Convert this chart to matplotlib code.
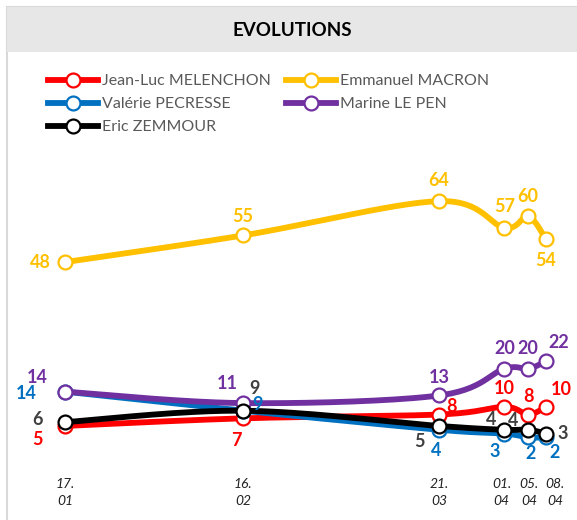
import numpy as np
import matplotlib.pyplot as plt
import matplotlib.transforms as mtransforms
from matplotlib.patches import Rectangle

# ---------------- data ----------------
date_labels = ["17.\n01", "16.\n02", "21.\n03", "01.\n04", "05.\n04", "08.\n04"]
day_of_year = [17, 47, 80, 91, 95, 98]

melenchon = [5, 7, 8, 10, 8, 10]
macron = [48, 55, 64, 57, 60, 54]
pecresse = [14, 9, 4, 3, 2, 2]
lepen = [14, 11, 13, 20, 20, 22]
zemmour = [6, 9, 5, 4, 4, 3]

series_names = ["Jean-Luc MELENCHON", "Emmanuel MACRON", "Valérie PECRESSE",
                "Marine LE PEN", "Eric ZEMMOUR"]

# ---------------- style ----------------
FONT = "Lato"
plt.rcParams['font.family'] = [FONT, 'DejaVu Sans']

W, H = 577, 520
fig = plt.figure(figsize=(W / 100, H / 100), dpi=100)

# frame + header band
fig.patches.append(Rectangle((7 / W, -0.05), 1.0, 1 - 7 / H + 0.05, transform=fig.transFigure,
                             facecolor='white', edgecolor='#D9D9D9', lw=1.5, zorder=-2))
fig.patches.append(Rectangle((7 / W, 1 - 52 / H), 1.0, 45 / H, transform=fig.transFigure,
                             facecolor='#E7E7E7', edgecolor='none', zorder=-1))
fig.text((7 + 577) / 2 / W, 1 - 30 / H, "EVOLUTIONS", ha='center', va='center',
         fontsize=13.5, fontweight='bold', color='black', family=[FONT, 'DejaVu Sans'])

ax = fig.add_axes([7 / W, 75 / H, 570 / W, 393 / H])
ax.set_zorder(1)
ax.set_facecolor('none')
PXX = 5.938  # px per day
PXY = 3.81   # px per unit
ax.set_xlim(17 - 58 / PXX, 98 + 31 / PXX)
ax.set_ylim(0, 393 / PXY)
for s in ax.spines.values():
    s.set_visible(False)
ax.set_yticks([])
ax.set_xticks(day_of_year)
ax.set_xticklabels(date_labels, fontstyle='italic', fontsize=10, linespacing=1.5, color='#222222')
ax.tick_params(axis='x', length=0, pad=24)
# small horizontal nudges of the crowded April tick labels (pixels)
tick_shift = [0, 0, 0, -3, 1, 9]
for lab, dx in zip(ax.get_xticklabels(), tick_shift):
    lab.set_transform(lab.get_transform() +
                      mtransforms.ScaledTranslation(dx / 100, 0, fig.dpi_scale_trans))


def smooth(xs, ys, n=30):
    """Excel-like smoothed curve via Bezier segments (computed in pixel space)."""
    P = np.column_stack([np.array(xs, float) * PXX, np.array(ys, float) * PXY])
    out = []
    for i in range(len(P) - 1):
        p0 = P[i - 1] if i > 0 else P[i]
        p1, p2 = P[i], P[i + 1]
        p3 = P[i + 2] if i + 2 < len(P) else P[i + 1]
        c1 = p1 + (p2 - p0) / 6
        c2 = p2 - (p3 - p1) / 6
        t = np.linspace(0, 1, n)[:, None]
        seg = (1 - t) ** 3 * p1 + 3 * (1 - t) ** 2 * t * c1 + 3 * (1 - t) * t ** 2 * c2 + t ** 3 * p2
        out.append(seg if i == 0 else seg[1:])
    pts = np.vstack(out)
    return pts[:, 0] / PXX, pts[:, 1] / PXY


colors = ['#FF0000', '#FFC000', '#0070C0', '#7030A0', '#000000']
label_colors = ['#FF0000', '#FFC000', '#0070C0', '#7030A0', '#404040']
all_values = [melenchon, macron, pecresse, lepen, zemmour]

# label offsets (pixels) for each point of each series
offsets = [
    [(-28, -14), (-7, -22), (12, 8), (0, 18), (0, 18), (15, 17)],      # melenchon
    [(-25, 0), (0, 19), (0, 21), (0, 21), (0, 20), (0, -21)],          # macron
    [(-39, -2), (14, 6), (-3, -21), (-10, -18), (2, -16), (9, -15)],   # pecresse
    [(-28, 14), (-16, 20), (0, 18), (0, 20), (0, 20), (13, 19)],       # lepen
    [(-28, 3), (11, 22), (-20, -16), (-13, 10), (-15, 9), (17, 0)],    # zemmour
]

handles = []
for k, (vals, c) in enumerate(zip(all_values, colors)):
    sx, sy = smooth(day_of_year, vals)
    ax.plot(sx, sy, color=c, lw=4.2, solid_capstyle='round', zorder=2 + k, clip_on=False)
    ax.plot(day_of_year, vals, ls='none', marker='o', markersize=10,
            markerfacecolor='white', markeredgecolor=c, markeredgewidth=1.6,
            zorder=2.5 + k, clip_on=False)
    handles.append(ax.plot([], [], color=c, lw=4.2, marker='o', markersize=10,
                           markerfacecolor='white', markeredgecolor=c, markeredgewidth=1.6)[0])
    for x, v, (dx, dy) in zip(day_of_year, vals, offsets[k]):
        ax.annotate(str(v), (x, v), xytext=(dx, dy), textcoords='offset pixels',
                    ha='center', va='center', fontsize=13, fontweight='bold',
                    color=label_colors[k], zorder=10)

order = [0, 2, 4, 1, 3]
leg = fig.legend([handles[i] for i in order], [series_names[i] for i in order],
                 ncol=2, loc='upper left', bbox_to_anchor=(48 / W, 1 - 74 / H),
                 frameon=False, fontsize=11.5, handlelength=3.1, handletextpad=0.25,
                 columnspacing=1.0, labelspacing=0.55, borderaxespad=0, borderpad=0)
for t in leg.get_texts():
    t.set_color('#595959')

fig.savefig('out.png', dpi=100)
